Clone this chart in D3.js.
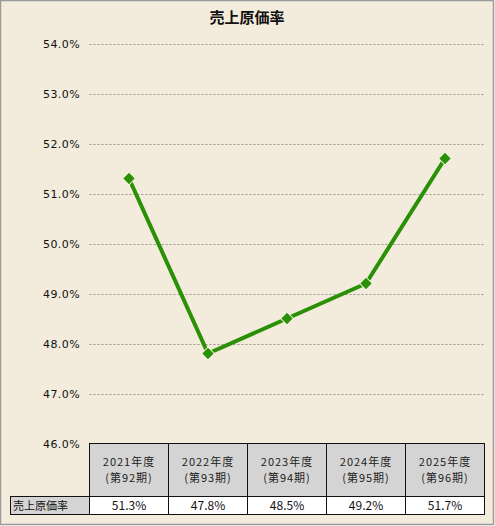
<!DOCTYPE html>
<html><head><meta charset="utf-8">
<script src="https://cdn.jsdelivr.net/npm/d3@7"></script>
<style>
html,body{margin:0;padding:0;background:#fff;}
svg{display:block;}
</style></head>
<body>
<script>
const title = "売上原価率";
const categories = ["2021年度", "2022年度", "2023年度", "2024年度", "2025年度"];
const periods = ["(第92期)", "(第93期)", "(第94期)", "(第95期)", "(第96期)"];
const seriesName = "売上原価率";
const values = [51.3, 47.8, 48.5, 49.2, 51.7];
const yTicks = [46, 47, 48, 49, 50, 51, 52, 53, 54];

(function () {
const W = 495, H = 526;
const font = "'Noto Sans CJK JP','DejaVu Sans',sans-serif";
const svg = d3.select("body").append("svg").attr("width", W).attr("height", H);

svg.append("rect").attr("x", 0.5).attr("y", 0.5).attr("width", W - 2).attr("height", H - 2)
  .attr("fill", "#F3ECDC").attr("stroke", "#9a9a9a").attr("stroke-width", 1.5);

svg.append("text").attr("x", 247).attr("y", 23).attr("text-anchor", "middle")
  .attr("font-family", font).attr("font-weight", "bold").attr("font-size", 15).attr("fill", "#111").text(title);

const pL = 89.5, pR = 484.5, pT = 43.5, pB = 443.5;
const x = d3.scaleBand().domain(categories).range([pL, pR]);
const y = d3.scaleLinear().domain([46, 54]).range([pB, pT]);

// gridlines
svg.append("g").selectAll("line").data(yTicks.filter(d => d > 46)).join("line")
  .attr("x1", pL).attr("x2", pR)
  .attr("y1", d => Math.round(y(d)) + 0.5).attr("y2", d => Math.round(y(d)) + 0.5)
  .attr("stroke", "#9a9288").attr("stroke-dasharray", "2,2").attr("stroke-width", 1);

// y labels
svg.append("g").selectAll("text").data(yTicks).join("text")
  .attr("x", 80).attr("y", d => y(d) + 4).attr("text-anchor", "end")
  .attr("font-family", "'DejaVu Sans',sans-serif").attr("font-size", 11).attr("letter-spacing", 0.4)
  .attr("fill", "#111").text(d => d.toFixed(1) + "%");

// line
const cx = d => x(d) + x.bandwidth() / 2;
const line = d3.line().x((d, i) => cx(categories[i])).y(d => y(d));
svg.append("path").datum(values).attr("d", line).attr("fill", "none")
  .attr("stroke", "#2A9005").attr("stroke-width", 4).attr("stroke-linejoin", "round");

svg.append("g").selectAll("path").data(values).join("path")
  .attr("transform", (d, i) => `translate(${cx(categories[i])},${y(d)}) rotate(45)`)
  .attr("d", "M-4.5,-4.5H4.5V4.5H-4.5Z")
  .attr("fill", "#2A9005").attr("stroke", "#f7f4e8").attr("stroke-width", 1);

// table
const headTop = 443.5, headBot = 496.5, rowBot = 514.5, rowLeft = 10.5;
const tg = svg.append("g");
tg.selectAll("rect.h").data(categories).join("rect").attr("class", "h")
  .attr("x", d => x(d)).attr("y", headTop).attr("width", x.bandwidth()).attr("height", headBot - headTop)
  .attr("fill", "#D4D4D4").attr("stroke", "#111").attr("stroke-width", 1);
tg.append("rect").attr("x", rowLeft).attr("y", headBot).attr("width", pL - rowLeft).attr("height", rowBot - headBot)
  .attr("fill", "#D4D4D4").attr("stroke", "#111").attr("stroke-width", 1);
tg.selectAll("rect.v").data(categories).join("rect").attr("class", "v")
  .attr("x", d => x(d)).attr("y", headBot).attr("width", x.bandwidth()).attr("height", rowBot - headBot)
  .attr("fill", "#fff").attr("stroke", "#111").attr("stroke-width", 1);

tg.selectAll("text.c").data(categories).join("text").attr("class", "c")
  .attr("x", d => cx(d)).attr("y", 466).attr("text-anchor", "middle")
  .attr("font-family", font).attr("font-size", 11).attr("letter-spacing", 1).attr("fill", "#222").text(d => d);
tg.selectAll("text.p").data(periods).join("text").attr("class", "p")
  .attr("x", (d, i) => cx(categories[i])).attr("y", 482).attr("text-anchor", "middle")
  .attr("font-family", font).attr("font-size", 11).attr("letter-spacing", 1).attr("fill", "#222").text(d => d);
tg.append("text").attr("x", 13).attr("y", 510).attr("font-family", font).attr("font-size", 11)
  .attr("fill", "#111").text(seriesName);
tg.selectAll("text.val").data(values).join("text").attr("class", "val")
  .attr("x", (d, i) => cx(categories[i])).attr("y", 510).attr("text-anchor", "middle")
  .attr("font-family", font).attr("font-size", 12).attr("fill", "#111").text(d => d.toFixed(1) + "%");
})();
</script>
</body></html>
